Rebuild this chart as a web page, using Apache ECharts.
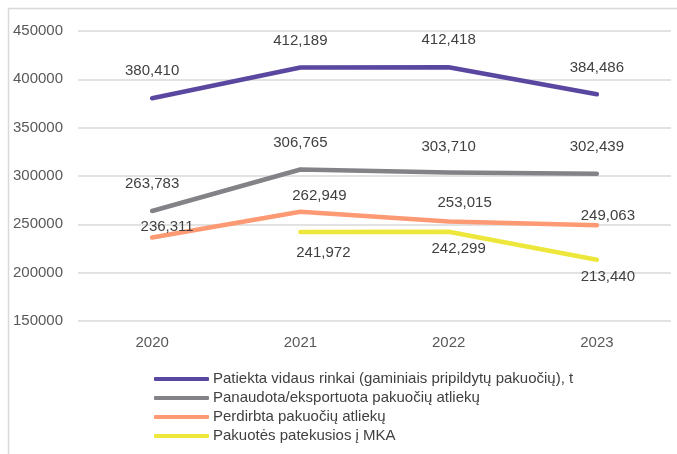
<!DOCTYPE html>
<html>
<head>
<meta charset="utf-8">
<script src="https://cdn.jsdelivr.net/npm/echarts@6/dist/echarts.min.js"></script>
<style>
  html, body { margin: 0; padding: 0; background: #ffffff; }
  #chart { width: 677px; height: 454px; }
</style>
</head>
<body>
<div id="chart"></div>
<script>
// Years on the category axis
const years = ['2020', '2021', '2022', '2023'];

// Series names (legend)
const seriesNames = [
  'Patiekta vidaus rinkai (gaminiais pripildytų pakuočių), t',
  'Panaudota/eksportuota pakuočių atliekų',
  'Perdirbta pakuočių atliekų',
  'Pakuotės patekusios į MKA'
];

// Tonnes per year
const placedOnMarket = [380410, 412189, 412418, 384486];
const recoveredExported = [263783, 306765, 303710, 302439];
const recycled = [236311, 262949, 253015, 249063];
const landfilled = [null, 241972, 242299, 213440];

// Y axis ticks
const yTicks = [150000, 200000, 250000, 300000, 350000, 400000, 450000];

// Label placement relative to each point (dx, dy in px)
const labelShift = [
  [[0, -27], [0, -27], [0, -27], [0, -26]],
  [[0, -27], [0, -27], [0, -26], [0, -27]],
  [[15, -11], [19, -16], [16, -19], [11, -9]],
  [[0, 0], [23, 21], [10, 17], [11, 17]]
];

const colors = ['#5a48a0', '#838387', '#fd9a73', '#ece73a'];
const values = [placedOnMarket, recoveredExported, recycled, landfilled];

const fontFamily = '"Liberation Sans", Arial, sans-serif';

function fmt(v) {
  return v.toLocaleString('en-US');
}

const series = values.map((vals, s) => ({
  name: seriesNames[s],
  type: 'line',
  data: vals.map((v, i) => ({
    value: v,
    label: { offset: labelShift[s][i] }
  })),
  showSymbol: true,
  symbol: 'circle',
  symbolSize: 1,
  connectNulls: false,
  lineStyle: { color: colors[s], width: 4.5, cap: 'round', join: 'round' },
  itemStyle: { color: colors[s] },
  label: {
    show: true,
    position: 'inside',
    color: '#404040',
    fontSize: 15,
    fontFamily: fontFamily,
    formatter: p => (p.value == null ? '' : fmt(p.value))
  },
  emphasis: { disabled: true },
  animation: false,
  z: 10 - s
}));

const chart = echarts.init(document.getElementById('chart'), null, { renderer: 'canvas' });
chart.setOption({
  backgroundColor: '#ffffff',
  animation: false,
  color: colors,
  grid: { left: 78, right: 6, top: 31, bottom: 133, containLabel: false },
  xAxis: {
    type: 'category',
    data: years,
    boundaryGap: true,
    axisLine: { show: false },
    axisTick: { show: false },
    axisLabel: { color: '#595959', fontSize: 15, fontFamily: fontFamily, margin: 14 }
  },
  yAxis: {
    type: 'value',
    min: yTicks[0],
    max: yTicks[yTicks.length - 1],
    interval: yTicks[1] - yTicks[0],
    axisLine: { show: false },
    axisTick: { show: false },
    splitLine: { lineStyle: { color: '#d9d9d9', width: 1.5 } },
    axisLabel: {
      color: '#595959', fontSize: 15, fontFamily: fontFamily, margin: 15,
      formatter: v => String(v)
    }
  },
  legend: {
    orient: 'vertical',
    left: 149,
    top: 366,
    icon: 'roundRect',
    itemWidth: 55,
    itemHeight: 4,
    itemGap: 3,
    data: seriesNames,
    textStyle: { color: '#404040', fontSize: 15, fontFamily: fontFamily, lineHeight: 16, padding: [0, 0, 0, -1] }
  },
  graphic: [{
    type: 'polyline',
    silent: true,
    shape: { points: [[8.5, 454], [8.5, 8.5], [677, 8.5]] },
    style: { stroke: '#d9d9d9', lineWidth: 1.5, fill: null }
  }],
  series: series
});
</script>
</body>
</html>
